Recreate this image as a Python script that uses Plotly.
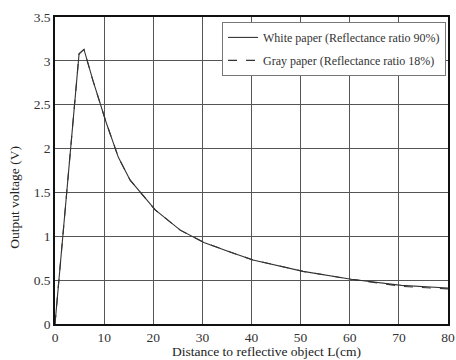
import plotly.graph_objects as go

dist = [0, 2.7, 4.9, 5.9, 7.7, 10.4, 12.9, 15.3, 20.4, 25.5, 30.3, 35.2, 40.3, 50.5, 60.3, 70.5, 80]
white = [0, 1.68, 3.08, 3.13, 2.78, 2.30, 1.90, 1.64, 1.30, 1.07, 0.93, 0.83, 0.73, 0.60, 0.51, 0.44, 0.41]
gray = [0, 1.68, 3.08, 3.13, 2.78, 2.30, 1.90, 1.64, 1.30, 1.07, 0.93, 0.83, 0.73, 0.60, 0.51, 0.43, 0.40]

xticks = [0, 10, 20, 30, 40, 50, 60, 70, 80]
yticks = [0, 0.5, 1, 1.5, 2, 2.5, 3, 3.5]
ytick_labels = ["0", "0.5", "1", "1.5", "2", "2.5", "3", "3.5"]
x_title = "Distance to reflective object L(cm)"
y_title = "Output voltage (V)"

font = "Liberation Serif, Times New Roman, serif"

fig = go.Figure()
fig.add_trace(go.Scatter(x=dist, y=white, mode="lines", name="White paper (Reflectance ratio 90%)",
                         legendgroup="w", line=dict(color="#333", width=1.1)))
fig.add_trace(go.Scatter(x=dist, y=gray, mode="lines", name="Gray paper (Reflectance ratio 18%)",
                         legendgroup="g", line=dict(color="#333", width=1.1, dash="dash")))

fig.update_layout(
    width=456, height=360,
    margin=dict(l=55, r=8, t=17, b=36, autoexpand=False),
    paper_bgcolor="white", plot_bgcolor="white",
    font=dict(family=font, color="#333", size=13.5),
    legend=dict(x=0.995, y=0.984, xanchor="right", yanchor="top",
                bgcolor="white", bordercolor="#777", borderwidth=1,
                font=dict(size=12, family=font, color="#333"), tracegroupgap=4,
                traceorder="grouped", itemwidth=30),
    xaxis=dict(range=[0, 80], tickvals=xticks, showgrid=True, gridcolor="#555", gridwidth=1,
               showline=True, linecolor="#111", linewidth=1.5, mirror=True, ticks="",
               zeroline=False, automargin=False),
    yaxis=dict(range=[0, 3.5], tickvals=yticks, ticktext=ytick_labels, showgrid=True, gridcolor="#555",
               gridwidth=1, showline=True, linecolor="#111", linewidth=1.5, mirror=True, ticks="",
               zeroline=False, automargin=False),
    annotations=[
        dict(text=x_title, xref="paper", yref="paper", x=0.537, y=-0.091, showarrow=False,
             xanchor="center", yanchor="middle", font=dict(size=13.5, color="#222")),
        dict(text=y_title, xref="paper", yref="paper", x=-0.102, y=0.414, showarrow=False,
             textangle=-90, xanchor="center", yanchor="middle", font=dict(size=13.5, color="#222")),
    ],
)

fig.write_html("out.html", config={"displayModeBar": False},
               post_script="document.body.style.margin='0';document.body.style.overflow='hidden';")
